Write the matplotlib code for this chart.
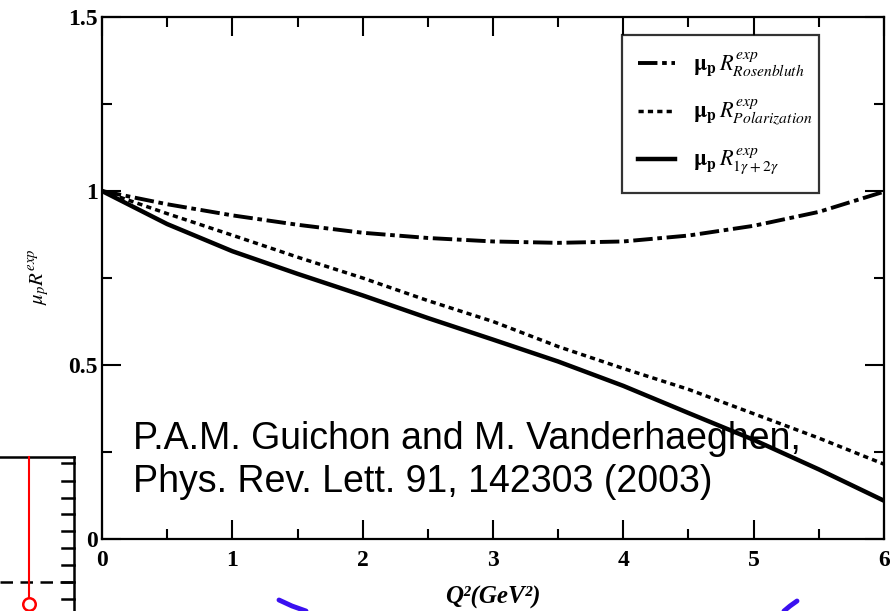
import matplotlib
matplotlib.use("Agg")
import matplotlib.pyplot as plt
from matplotlib.ticker import MultipleLocator, FixedLocator

# ---------------- data ----------------
q2 = [0.0, 0.5, 1.0, 1.5, 2.0, 2.5, 3.0, 3.5, 4.0, 4.5, 5.0, 5.5, 6.0]
r_rosenbluth = [1.0, 0.962, 0.93, 0.903, 0.88, 0.865, 0.855, 0.851, 0.855, 0.872, 0.90, 0.94, 0.998]
r_polarization = [1.0, 0.935, 0.873, 0.81, 0.75, 0.685, 0.625, 0.553, 0.49, 0.43, 0.36, 0.29, 0.215]
r_twophoton = [1.0, 0.905, 0.827, 0.762, 0.70, 0.635, 0.573, 0.51, 0.44, 0.362, 0.285, 0.20, 0.11]

x_ticks = [0, 1, 2, 3, 4, 5, 6]
x_ticklabels = ["0", "1", "2", "3", "4", "5", "6"]
y_ticks = [0, 0.5, 1, 1.5]
y_ticklabels = ["0", "0.5", "1", "1.5"]

legend_labels = [r"$\mathbf{\mu_p}\,R^{exp}_{Rosenbluth}$",
                 r"$\mathbf{\mu_p}\,R^{exp}_{Polarization}$",
                 r"$\mathbf{\mu_p}\,R^{exp}_{1\gamma+2\gamma}$"]
citation = "P.A.M. Guichon and M. Vanderhaeghen,\nPhys. Rev. Lett. 91, 142303 (2003)"

# fragments of neighbouring figures visible in the picture (pixel coords)
frag_red_x = [29, 29]
frag_red_y = [457, 598]
frag_circle = (29, 604)
frag_dash_x = [0, 74]
frag_dash_y = [582, 582]
frag_tick_y = [463, 481, 498, 514, 531, 548, 565, 582, 599]
frag_blue1_x = [279, 292, 306]
frag_blue1_y = [600, 606, 611]
frag_blue2_x = [784, 790, 797]
frag_blue2_y = [611, 606, 601]

# ---------------- figure ----------------
plt.rcParams['mathtext.fontset'] = 'stix'
fig = plt.figure(figsize=(8.96, 6.11), dpi=100)

W, H = 896.0, 611.0
ax = fig.add_axes([102 / W, (H - 539) / H, 782 / W, 522 / H])

ax.plot(q2, r_rosenbluth, color='black', lw=2.8, linestyle=(0, (5, 1.2, 1.2, 1.2)),
        label=legend_labels[0])
ax.plot(q2, r_polarization, color='black', lw=2.5, linestyle=(0, (1.5, 1.2)),
        label=legend_labels[1])
ax.plot(q2, r_twophoton, color='black', lw=3.2, linestyle='-', label=legend_labels[2])

ax.set_xlim(0, 6)
ax.set_ylim(0, 1.5)
ax.xaxis.set_major_locator(FixedLocator(x_ticks))
ax.yaxis.set_major_locator(FixedLocator(y_ticks))
ax.xaxis.set_minor_locator(MultipleLocator(0.5))
ax.yaxis.set_minor_locator(MultipleLocator(0.25))
ax.set_xticklabels(x_ticklabels)
ax.set_yticklabels(y_ticklabels)
ax.tick_params(which='both', direction='in', top=True, right=True, width=1.5)
ax.tick_params(which='major', length=14)
ax.tick_params(which='minor', length=7)
ax.tick_params(axis='x', which='major', pad=8)
ax.tick_params(axis='y', which='major', pad=3)
for lab in ax.get_xticklabels() + ax.get_yticklabels():
    lab.set_fontfamily('Liberation Serif')
    lab.set_fontweight('bold')
    lab.set_fontsize(17)
for sp in ax.spines.values():
    sp.set_linewidth(1.6)

ax.set_xlabel("Q\u00b2(GeV\u00b2)", fontsize=18, family='Liberation Serif',
              fontweight='bold', fontstyle='italic', labelpad=11)
fig.text(40 / W, 1 - 277 / H, r"$\mu_p R^{exp}$", rotation=90,
         fontsize=15, ha='center', va='center')

leg = ax.legend(loc='upper left', bbox_to_anchor=(0.665, 0.9655, 0.252, 0.0),
                mode='expand', fontsize=16, frameon=True, fancybox=False,
                edgecolor='black', handlelength=1.7, handletextpad=0.8,
                labelspacing=0.85, borderpad=0.7, borderaxespad=0.0)
leg.get_frame().set_linewidth(1.6)

fig.text(133 / W, 1 - 492 / H, citation, fontsize=27, family='Liberation Sans',
         ha='left', va='baseline', linespacing=1.24)

# overlay axes in pixel coordinates for the fragments of other figures
ov = fig.add_axes([0, 0, 1, 1], zorder=-1)
ov.set_xlim(0, W)
ov.set_ylim(H, 0)
ov.axis('off')
ov.plot([74, 74], [457, 611], color='black', lw=1.8)
ov.plot([0, 74], [457, 457], color='black', lw=1.8)
for ty in frag_tick_y:
    ov.plot([62, 74], [ty, ty], color='black', lw=1.8)
ov.plot(frag_dash_x, frag_dash_y, color='black', lw=1.8, linestyle=(0, (5, 3)))
ov.plot(frag_red_x, frag_red_y, color='red', lw=1.5)
ov.plot([frag_circle[0]], [frag_circle[1]], marker='o', ms=9, mfc='white',
        mec='red', mew=1.8)
ov.plot(frag_blue1_x, frag_blue1_y, color='#3a10f0', lw=3.5, solid_capstyle='round')
ov.plot(frag_blue2_x, frag_blue2_y, color='#3a10f0', lw=3.5, solid_capstyle='round')

fig.savefig("out.png", dpi=100)
